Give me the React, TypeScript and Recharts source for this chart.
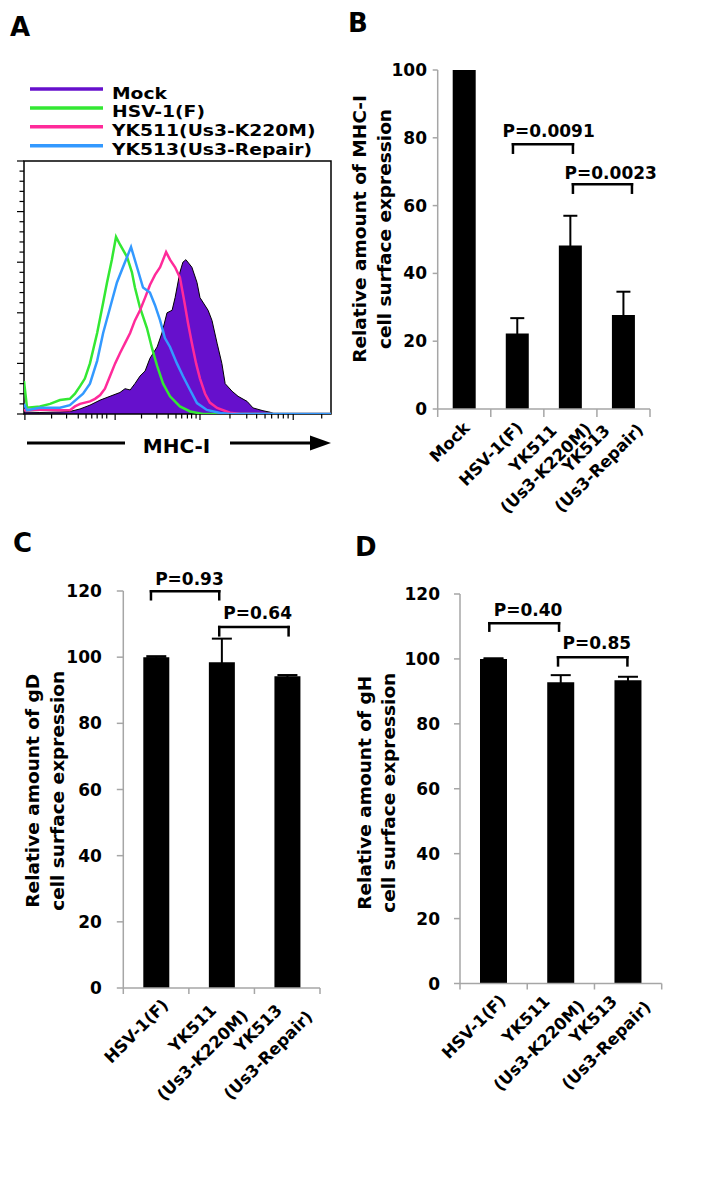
import React from 'react';
import {
  ComposedChart, BarChart, Bar, Line, Area, XAxis, YAxis, ErrorBar,
  ReferenceLine, ReferenceDot, ReferenceArea, Legend,
} from 'recharts';

const FONT = '"DejaVu Sans", "Liberation Sans", Arial, sans-serif';
const AXIS_GRAY = '#a6a6a6';

// ---------------- Panel A: histogram (fluorescence channel, % of frame height) ----------------
const MOCK_HIST = [
  [0, 0.8], [53, 0.6], [120, 0.8], [153, 1], [187, 2], [220, 3.5], [254, 5.5], [287, 7], [320, 8.5],
  [337, 10], [354, 9.5], [370, 12], [387, 15], [404, 17], [420, 22], [444, 26.5], [460, 32], [477, 40],
  [494, 41], [504, 46], [520, 56], [530, 60], [540, 61], [560, 58], [577, 52], [587, 46], [614, 41],
  [627, 37], [644, 28], [660, 20], [671, 12], [694, 9], [714, 7], [744, 5], [764, 2.4], [797, 1.3],
  [821, 0.7], [837, 0], [1024, 0],
];
const HSV_HIST = [
  [0, 13], [10, 2.5], [53, 3], [87, 4], [120, 5.5], [153, 6], [170, 8], [187, 11], [203, 14], [220, 20],
  [244, 32], [264, 44], [277, 52], [293, 61], [307, 70], [320, 67], [344, 62], [360, 56], [370, 50],
  [387, 42], [410, 34], [427, 26], [444, 19], [464, 12], [487, 7], [520, 3], [554, 1], [597, 0], [1024, 0],
];
const YK511_HIST = [
  [0, 1.5], [53, 1.8], [120, 1.5], [153, 1.5], [170, 3], [187, 4], [220, 5], [237, 6], [254, 7.5],
  [270, 10], [287, 15], [304, 20], [320, 24], [337, 28], [354, 32], [370, 37], [387, 41], [404, 46],
  [420, 51], [437, 55], [454, 58], [474, 64], [487, 61], [504, 58], [520, 54], [534, 45], [547, 36],
  [560, 28], [574, 20], [587, 14], [604, 8], [620, 4.5], [644, 2.4], [687, 0.5], [721, 0], [1024, 0],
];
const YK513_HIST = [
  [0, 4], [10, 1.5], [53, 2.5], [120, 2.5], [153, 3.5], [177, 6], [197, 8], [220, 12], [244, 21],
  [264, 32], [287, 42], [310, 52], [330, 58], [357, 66], [377, 58], [397, 50], [420, 48], [437, 43],
  [454, 37], [470, 30], [487, 26.5], [510, 20], [530, 15], [554, 9.5], [577, 4.3], [610, 1.6],
  [654, 0.4], [687, 0], [1024, 0],
];
const HIST_NAMES = ['Mock', 'HSV-1(F)', 'YK511(Us3-K220M)', 'YK513(Us3-Repair)'];
const HIST_KEYS = ['mock', 'hsv', 'yk511', 'yk513'];
const HIST_COLORS = ['#6610cc', '#33e833', '#ff2a9a', '#3399ff'];
const HIST_X_MAJOR = [3, 304, 587, 898];
const HIST_X_MINOR = [92, 142, 181, 207, 226, 244, 261, 276, 392, 443, 481, 507, 526, 545, 559, 574,
  687, 743, 776, 804, 826, 848, 865, 881, 993];
const HIST_Y_TICKS = [0, 4, 8, 12, 16, 20, 24, 28, 32, 36, 40, 44, 48, 52, 56, 60, 64, 68, 72, 76, 80,
  84, 88, 92, 96, 100];
const HIST_Y_MAJOR = [0, 20, 40, 60, 80, 100];

const HIST_SETS = [MOCK_HIST, HSV_HIST, YK511_HIST, YK513_HIST];
const histRows = (() => {
  const xs = Array.from(new Set(HIST_SETS.flatMap((s) => s.map((p) => p[0])))).sort((a, b) => a - b);
  const maps = HIST_SETS.map((s) => new Map(s.map((p) => [p[0], p[1]] as [number, number])));
  return xs.map((x) => {
    const row: any = { x };
    HIST_KEYS.forEach((k, i) => {
      if (maps[i].has(x)) row[k] = maps[i].get(x);
    });
    return row;
  });
})();

// ---------------- Panel B: MHC-I ----------------
const B_CATEGORIES = ['Mock', 'HSV-1(F)', 'YK511\n(Us3-K220M)', 'YK513\n(Us3-Repair)'];
const B_VALUES = [100, 22.3, 48.2, 27.7];
const B_ERRORS = [0, 4.5, 8.8, 6.9];
const B_Y_TICKS = [0, 20, 40, 60, 80, 100];
const B_TITLE = ['Relative amount of MHC-I', 'cell surface expression'];
const B_BRACKETS = [
  { x1: 1.418, x2: 2.548, y: 78.1, drop: 2.5, text: 'P=0.0091', tx: 2.09, ty: 82.1 },
  { x1: 2.548, x2: 3.66, y: 66.3, drop: 2.5, text: 'P=0.0023', tx: 3.26, ty: 69.5 },
];

// ---------------- Panel C: gD ----------------
const CD_CATEGORIES = ['HSV-1(F)', 'YK511\n(Us3-K220M)', 'YK513\n(Us3-Repair)'];
const C_VALUES = [100, 98.5, 94.2];
const C_ERRORS = [0.3, 7.1, 0.4];
const CD_Y_TICKS = [0, 20, 40, 60, 80, 100, 120];
const C_TITLE = ['Relative amount of gD', 'cell surface expression'];
const C_BRACKETS = [
  { x1: 0.422, x2: 1.463, y: 119.9, drop: 2.4, text: 'P=0.93', tx: 1.009, ty: 123.7 },
  { x1: 1.463, x2: 2.521, y: 109.1, drop: 2.5, text: 'P=0.64', tx: 2.049, ty: 113.3 },
];

// ---------------- Panel D: gH ----------------
const D_VALUES = [100, 92.8, 93.4];
const D_ERRORS = [0.2, 2.2, 1.1];
const D_TITLE = ['Relative amount of gH', 'cell surface expression'];
const D_BRACKETS = [
  { x1: 0.436, x2: 1.473, y: 111.0, drop: 2.3, text: 'P=0.40', tx: 1.012, ty: 115.2 },
  { x1: 1.458, x2: 2.49, y: 100.5, drop: 2.5, text: 'P=0.85', tx: 2.036, ty: 104.9 },
];

const boldText = { fontFamily: FONT, fontWeight: 700, fill: '#000' } as const;

// ---------- Panel A helpers ----------
const HistXTick = (props: any) => {
  const { x, y, payload } = props;
  const major = HIST_X_MAJOR.includes(payload.value);
  return <line x1={x} x2={x} y1={y} y2={y + (major ? 6 : 4.5)} stroke="#000" strokeWidth={1.2} />;
};
const HistYTick = (props: any) => {
  const { x, y, payload } = props;
  const major = HIST_Y_MAJOR.includes(payload.value);
  return <line x1={x - (major ? 7 : 4.5)} x2={x} y1={y} y2={y} stroke="#000" strokeWidth={1.2} />;
};
const HistLegend = () => (
  <svg width={350} height={165} style={{ overflow: 'visible', display: 'block' }}>
    {HIST_NAMES.map((n, i) => {
      const y = 89 + i * 18.9;
      return (
        <g key={n}>
          <line x1={30} x2={103} y1={y} y2={y} stroke={HIST_COLORS[i]} strokeWidth={3.5} />
          <text x={0} y={0} transform={`translate(112, ${y + 9.5}) scale(1.17, 1)`} fontSize={16} {...boldText}>{n}</text>
        </g>
      );
    })}
  </svg>
);
const MhcLabel = (props: any) => {
  const { x, y, width } = props.viewBox;
  const ay = y + 29;
  return (
    <g>
      <line x1={x + 3} x2={x + 101} y1={ay} y2={ay} stroke="#000" strokeWidth={3} />
      <line x1={x + 206} x2={x + width - 18} y1={ay} y2={ay} stroke="#000" strokeWidth={3} />
      <polygon points={`${x + width - 21},${ay - 7.5} ${x + width},${ay} ${x + width - 21},${ay + 7.5}`} fill="#000" />
      <text x={x + width / 2 - 1} y={ay + 10} textAnchor="middle" fontSize={20} {...boldText}>MHC-I</text>
    </g>
  );
};

function HistogramPanel() {
  return (
    <div style={{ position: 'absolute', left: 0, top: 0 }}>
      <ComposedChart width={350} height={470} data={histRows} margin={{ top: 161, right: 19, bottom: 46, left: 19 }}>
        <XAxis type="number" dataKey="x" domain={[0, 1024]} ticks={[...HIST_X_MAJOR, ...HIST_X_MINOR]}
          interval={0} tickLine={false} tickSize={0} tickMargin={0} axisLine={false} height={10}
          tick={<HistXTick />} allowDataOverflow label={{ content: (lp: any) => <MhcLabel {...lp} /> }} />
        <YAxis type="number" domain={[0, 100]} ticks={HIST_Y_TICKS} interval={0} tickLine={false}
          tickSize={0} tickMargin={0} axisLine={false} width={5} tick={<HistYTick />} allowDataOverflow />
        <Legend content={<HistLegend />} layout="vertical" align="center" verticalAlign="middle"
          wrapperStyle={{ position: 'absolute', left: 0, top: 0, width: 350, height: 165 }} />
        <Area dataKey="mock" name={HIST_NAMES[0]} type="linear" connectNulls fill={HIST_COLORS[0]} fillOpacity={1}
          stroke="#000" strokeWidth={1} isAnimationActive={false} dot={false} activeDot={false} />
        <Line dataKey="hsv" name={HIST_NAMES[1]} type="linear" connectNulls stroke={HIST_COLORS[1]} strokeWidth={2.5}
          dot={false} activeDot={false} isAnimationActive={false} />
        <Line dataKey="yk511" name={HIST_NAMES[2]} type="linear" connectNulls stroke={HIST_COLORS[2]} strokeWidth={2.5}
          dot={false} activeDot={false} isAnimationActive={false} />
        <Line dataKey="yk513" name={HIST_NAMES[3]} type="linear" connectNulls stroke={HIST_COLORS[3]} strokeWidth={2.5}
          dot={false} activeDot={false} isAnimationActive={false} />
        <ReferenceArea x1={0} x2={1024} y1={0} y2={100} fill="none" fillOpacity={0} stroke="#000"
          strokeWidth={1.5} ifOverflow="visible" />
      </ComposedChart>
    </div>
  );
}

// ---------- Bar panels ----------
const LABEL_FS = 16.5;
const CatTick = (props: any) => {
  const { x, y, payload, categories, o } = props;
  const v = payload.value;
  if (Number.isInteger(v)) {
    return <line x1={x} x2={x} y1={y} y2={y + o.tick} stroke={AXIS_GRAY} strokeWidth={1.5} />;
  }
  const lines: string[] = categories[Math.floor(v)].split('\n');
  if (lines.length === 1) {
    const ex = x + o.ex;
    const ey = y + o.ey;
    return (
      <text x={ex} y={ey} dy="0.36em" textAnchor="end" transform={`rotate(-45, ${ex}, ${ey})`}
        fontSize={LABEL_FS} {...boldText}>{lines[0]}</text>
    );
  }
  return (
    <g>
      {lines.map((t, i) => {
        const cx = x + o.l[i][0];
        const cy = y + o.l[i][1];
        return (
          <text key={i} x={cx} y={cy} dy="0.36em" textAnchor="middle" transform={`rotate(-45, ${cx}, ${cy})`}
            fontSize={LABEL_FS} {...boldText}>{t}</text>
        );
      })}
    </g>
  );
};

const AxisTitle = (props: any) => {
  const { viewBox, lines, d1, d2, dy } = props;
  const fs = 18.5;
  const axisX = viewBox.x + viewBox.width;
  const cy = viewBox.y + viewBox.height / 2 + dy;
  return (
    <g>
      {lines.map((t: string, i: number) => {
        const cx = axisX + (i === 0 ? d1 : d2) + 0.36 * fs;
        return (
          <text key={i} x={cx} y={cy} textAnchor="middle" transform={`rotate(-90, ${cx}, ${cy})`}
            fontSize={fs} {...boldText}>{t}</text>
        );
      })}
    </g>
  );
};

function BarPanel(p: any) {
  const n = p.categories.length;
  const rows = p.categories.map((c: string, i: number) => ({ pos: i + 0.5, name: c, value: p.values[i], err: p.errors[i] }));
  const xTicks = Array.from({ length: 2 * n + 1 }, (_, k) => k / 2);
  return (
    <div style={{ position: 'absolute', left: p.left, top: p.top }}>
      <BarChart width={p.width} height={p.height} data={rows} margin={p.margin}>
        <XAxis type="number" dataKey="pos" domain={[0, n]} ticks={xTicks} interval={0} tickLine={false}
          tickSize={0} tickMargin={0} axisLine={{ stroke: AXIS_GRAY, strokeWidth: 1.5 }} height={120}
          tick={<CatTick categories={p.categories} o={p.labelOffsets} />} allowDecimals />
        <YAxis type="number" domain={[0, p.yMax]} ticks={p.yTicks} interval={0} width={60}
          tickSize={p.tickSize} tickMargin={p.tickMargin}
          tickLine={{ stroke: AXIS_GRAY, strokeWidth: 1.5 }} axisLine={{ stroke: AXIS_GRAY, strokeWidth: 1.5 }}
          tick={{ fontSize: 17, fontWeight: 700, fontFamily: FONT, fill: '#000' }}
          label={{ content: (lp: any) => <AxisTitle {...lp} lines={p.title} d1={p.titleD1} d2={p.titleD2} dy={p.titleDy} /> }} />
        <Bar dataKey="value" fill="#000" barSize={p.barSize} isAnimationActive={false}>
          <ErrorBar dataKey="err" width={p.capHalf} strokeWidth={2} stroke="#000" direction="y" />
        </Bar>
        {p.brackets.flatMap((b: any, k: number) => [
          <ReferenceLine key={`h${k}`} segment={[{ x: b.x1, y: b.y }, { x: b.x2, y: b.y }]} stroke="#000"
            strokeWidth={2.5} strokeLinecap="square" ifOverflow="visible" />,
          <ReferenceLine key={`l${k}`} segment={[{ x: b.x1, y: b.y }, { x: b.x1, y: b.y - b.drop }]} stroke="#000"
            strokeWidth={2.5} strokeLinecap="square" ifOverflow="visible" />,
          <ReferenceLine key={`r${k}`} segment={[{ x: b.x2, y: b.y }, { x: b.x2, y: b.y - b.drop }]} stroke="#000"
            strokeWidth={2.5} strokeLinecap="square" ifOverflow="visible" />,
          <ReferenceDot key={`t${k}`} x={b.tx} y={b.ty} r={0} fill="none" stroke="none" ifOverflow="visible"
            label={{ value: b.text, position: 'center', fontSize: 17, fontWeight: 700, fontFamily: FONT, fill: '#000' }} />,
        ])}
      </BarChart>
    </div>
  );
}

export default function App() {
  return (
    <div style={{ position: 'absolute', left: 0, top: 0, width: 710, height: 1188, background: '#fff', overflow: 'hidden' }}>
      <HistogramPanel />
      <BarPanel left={340} top={0} width={370} height={540}
        margin={{ top: 70, right: 60, bottom: 11, left: 37.7 }}
        categories={B_CATEGORIES} values={B_VALUES} errors={B_ERRORS} yMax={100} yTicks={B_Y_TICKS}
        barSize={23} capHalf={7} tickSize={5} tickMargin={5.7}
        title={B_TITLE} titleD1={-78.7} titleD2={-53.7} titleDy={-10.5}
        labelOffsets={{ tick: 8, ex: 2.4, ey: 15.8, l: [[-37.6, 39.3], [-24.7, 58.9]] }}
        brackets={B_BRACKETS} />
      <BarPanel left={0} top={520} width={350} height={640}
        margin={{ top: 71, right: 30, bottom: 52, left: 63.3 }}
        categories={CD_CATEGORIES} values={C_VALUES} errors={C_ERRORS} yMax={120} yTicks={CD_Y_TICKS}
        barSize={26} capHalf={10} tickSize={6.5} tickMargin={15}
        title={C_TITLE} titleD1={-90.8} titleD2={-65.8} titleDy={1.3}
        labelOffsets={{ tick: 6, ex: 9, ey: 14, l: [[-29.3, 40], [-19.3, 67]] }}
        brackets={C_BRACKETS} />
      <BarPanel left={350} top={520} width={360} height={640}
        margin={{ top: 74, right: 48.3, bottom: 56.5, left: 50 }}
        categories={CD_CATEGORIES} values={D_VALUES} errors={D_ERRORS} yMax={120} yTicks={CD_Y_TICKS}
        barSize={27} capHalf={10} tickSize={6} tickMargin={14}
        title={D_TITLE} titleD1={-96} titleD2={-71.7} titleDy={4}
        labelOffsets={{ tick: 6, ex: 9, ey: 14, l: [[-35, 35.5], [-22, 61.7]] }}
        brackets={D_BRACKETS} />
      <svg width={710} height={1188} style={{ position: 'absolute', left: 0, top: 0, pointerEvents: 'none' }}>
        <text x={10} y={36} fontSize={26} {...boldText}>A</text>
        <text x={348} y={32} fontSize={26} {...boldText}>B</text>
        <text x={13} y={552} fontSize={26} {...boldText}>C</text>
        <text x={355} y={556} fontSize={26} {...boldText}>D</text>
      </svg>
    </div>
  );
}
